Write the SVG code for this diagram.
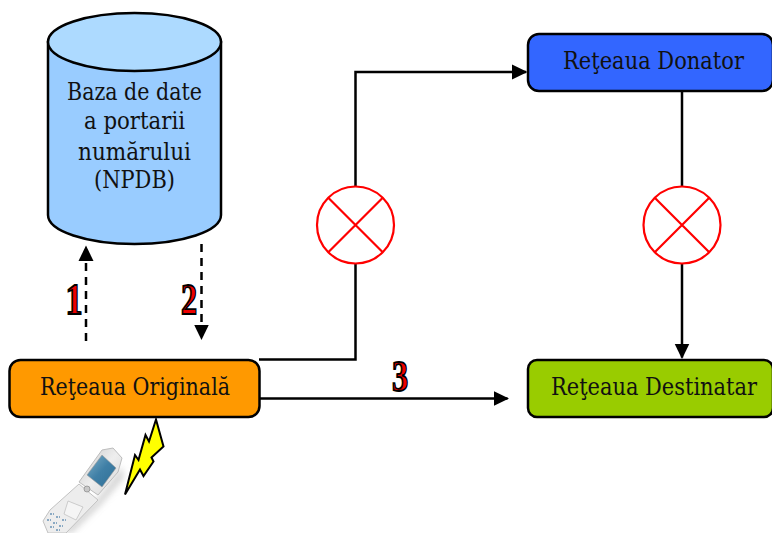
<svg xmlns="http://www.w3.org/2000/svg" width="772" height="533" viewBox="0 0 772 533">
<style>
.box{stroke:#000;stroke-width:2.5}
.lbl{font-family:"DejaVu Serif",serif;font-size:24px;fill:#111;text-anchor:start}
.c{fill:none;stroke:#000;stroke-width:2.500}
.d{stroke-dasharray:8 6}
.x{fill:#fff;stroke:#f00;stroke-width:2.200}
.num{font-family:"Liberation Serif",serif;font-weight:bold;font-size:45px;fill:#e00;stroke:#000;stroke-width:1.800}
</style>
<defs>
<marker id="ah" markerUnits="userSpaceOnUse" markerWidth="17" markerHeight="16" refX="14" refY="8" orient="auto"><path d="M0 .5L15.500 8L0 15.500z" fill="#000"/></marker>
<linearGradient id="scr" x1="0" y1="0" x2="1" y2="1"><stop offset="0" stop-color="#7fb0c8"/><stop offset=".5" stop-color="#3f7fa6"/><stop offset="1" stop-color="#2f6f96"/></linearGradient>
<linearGradient id="lid" x1="0" y1="0" x2="1" y2="1"><stop offset="0" stop-color="#c8c8c8"/><stop offset=".5" stop-color="#eee"/><stop offset="1" stop-color="#d5d5d5"/></linearGradient>
<filter id="blur" x="-30%" y="-30%" width="160%" height="160%"><feGaussianBlur stdDeviation="3"/></filter>
</defs>
<g id="connectors">
<path class="c d" d="M86 341V247" marker-end="url(#ah)"/>
<path class="c d" d="M201.500 244V338.500" marker-end="url(#ah)"/>
<path class="c" d="M259 359.500H355.500V264"/>
<path class="c" d="M355.500 186V72H526" marker-end="url(#ah)"/>
<path class="c" d="M682 91V186"/>
<path class="c" d="M682 264V357.500" marker-end="url(#ah)"/>
<path class="c" d="M260 398.500H507.500" marker-end="url(#ah)"/>
</g>
<g id="npdb">
<path class="box" d="M48 42V215A86.500 29 0 0 0 221 215V42z" fill="#99ccff"/>
<ellipse class="box" cx="134.500" cy="42" rx="86.500" ry="29" fill="#addaff"/>
<text class="lbl" x="67" y="100" textLength="135" lengthAdjust="spacingAndGlyphs">Baza de date</text>
<text class="lbl" x="84" y="129" textLength="101" lengthAdjust="spacingAndGlyphs">a portarii</text>
<text class="lbl" x="78" y="160" textLength="113" lengthAdjust="spacingAndGlyphs">numărului</text>
<text class="lbl" x="94" y="188" textLength="81" lengthAdjust="spacingAndGlyphs">(NPDB)</text>
</g>
<g id="originala">
<rect class="box" x="9.500" y="360" width="250" height="57" rx="11" fill="#ff9900"/>
<text class="lbl" x="40" y="395" textLength="190" lengthAdjust="spacingAndGlyphs">Reţeaua Originală</text>
</g>
<g id="donator">
<rect class="box" x="528" y="34" width="245" height="57" rx="11" fill="#3366ff"/>
<text class="lbl" x="563" y="69" textLength="181" lengthAdjust="spacingAndGlyphs">Reţeaua Donator</text>
</g>
<g id="destinatar">
<rect class="box" x="528" y="360" width="245" height="57" rx="9" fill="#99cc00"/>
<text class="lbl" transform="translate(551 395) scale(.8 1)" textLength="257.500" lengthAdjust="spacingAndGlyphs">Reţeaua Destinatar</text>
</g>
<g id="blocaj1">
<circle class="x" cx="355.500" cy="225" r="38.500"/>
<path class="x" d="M328.500 198L382.500 252M382.500 198L328.500 252"/>
</g>
<g id="blocaj2">
<circle class="x" cx="682" cy="225" r="38.500"/>
<path class="x" d="M655 198L709 252M709 198L655 252"/>
</g>
<g id="numere">
<text class="num" transform="translate(65.500 314) scale(.76 1)">1</text>
<text class="num" transform="translate(181 314) scale(.72 1)">2</text>
<text class="num" transform="translate(392 391) scale(.72 1)">3</text>
</g>
<g id="fulger">
<path d="M156 419.500L163.500 446.500L151.500 457.500L153.500 461.500L143.500 476L140 469.500L125 494.500L135 455L138.500 460L145.500 435L149 441.500z" fill="#ffff00" stroke="#000" stroke-width="2"/>
</g>
<g id="telefon">
<path d="M122 466L124 478L100 506L72 533H60L98 498z" fill="#bbb" opacity=".6" filter="url(#blur)"/>
<path d="M102 450L113 448L122 458L118 472L98 495L79 482z" fill="url(#lid)" stroke="#bdbdbd" stroke-width="1"/>
<path d="M102 455L116 468L102 487L87 475z" fill="url(#scr)" stroke="#999" stroke-width=".6"/>
<path d="M79 484L98 500L66 533H48L43 521L50 510z" fill="#ededed" stroke="#c2c2c2" stroke-width="1"/>
<path d="M68 501L83 507L76 520L64 514z" fill="#f5f5f5" stroke="#c2c2c2" stroke-width=".8"/>
<path d="M50 514h4m2 3h4m2 3h4M47 520h4m2 3h4m2 3h4M50 527h4m2 3h4" stroke="#6a93b5" stroke-width="1.500" stroke-dasharray="2 1"/>
<circle cx="87" cy="489" r="3" fill="#c8c8c8" stroke="#888" stroke-width=".7"/>
</g>
</svg>
